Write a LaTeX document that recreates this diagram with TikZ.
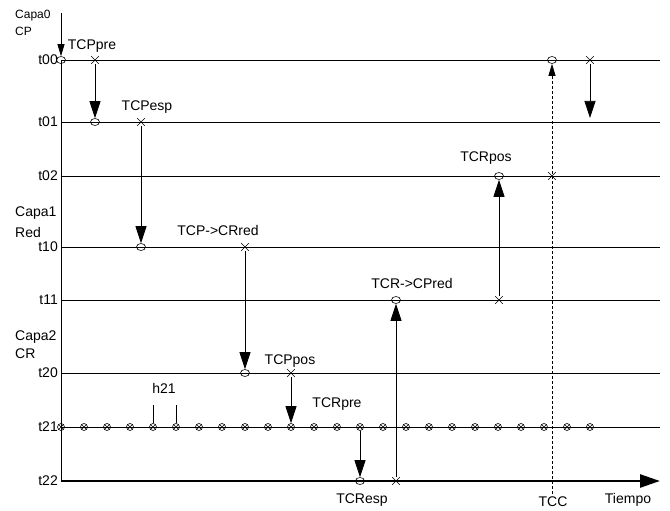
\documentclass[tikz,border=0pt]{standalone}
\usepackage{fontspec}
\setmainfont{Liberation Sans}
\usepackage{tikz}
\usetikzlibrary{arrows.meta,positioning,shapes.geometric,shapes.misc}
\tikzset{
  tline/.style ={draw, line width=0.9pt},
  taxis/.style ={line width=2.6pt, -{Triangle[length=20pt,width=13pt]}},
  evo/.style   ={draw, ellipse, minimum width=9pt, minimum height=7pt, inner sep=0pt, line width=0.6pt},
  evx/.style   ={draw, cross out, minimum size=7pt, inner sep=0pt, line width=0.6pt},
  hmark/.style ={draw, circle, minimum size=7pt, inner sep=0pt, line width=0.6pt,
                 path picture={\draw[line width=0.6pt] (path picture bounding box.south west) -- (path picture bounding box.north east)
                   (path picture bounding box.north west) -- (path picture bounding box.south east);}},
  big/.style   ={-{Triangle[length=17pt,width=11pt]}, line width=0.7pt},
  small/.style ={-{Triangle[length=12pt,width=7pt]}, line width=0.7pt},
  lbl/.style   ={font=\fontsize{14}{16}\selectfont, inner sep=0pt},
  rlbl/.style  ={lbl, anchor=east},
  clbl/.style  ={lbl, anchor=west},
}
\begin{document}
\begin{tikzpicture}[x=1pt, y=-1pt]
  \useasboundingbox (0,0) rectangle (670,511);

  % ---- time rows ----
  \foreach \r/\y in {00/60, 01/122, 02/176, 10/247, 11/300, 20/373, 21/427, 22/481} {
    \coordinate (r\r l) at (61,\y);
    \coordinate (r\r r) at (660,\y);
    \node[rlbl] (l\r) at (58,\y) {t\r};
  }
  \foreach \r in {00, 01, 02, 10, 11, 20, 21}
    \draw[tline] (r\r l) -- (r\r r);
  \draw[taxis] (r22l) -- (r22r);
  \draw[tline] (r00l) -- (r22l);

  % ---- layer names ----
  \node[clbl, font=\fontsize{12}{14}\selectfont] (capa0) at (15,16) {Capa0};
  \node[clbl, font=\fontsize{12}{14}\selectfont] (cp) at (15,31) {CP};
  \node[clbl] (capa1) at (15,213) {Capa1};
  \node[clbl] (red) at (15,232) {Red};
  \node[clbl] (capa2) at (15,337) {Capa2};
  \node[clbl] (cr) at (15,354) {CR};

  % ---- events ----
  \coordinate (top) at (61,13);
  \node[evo] (o00) at (61,60) {};
  \node[evx] (x00) at (95,60) {};
  \node[evo] (o01) at (95,122) {};
  \node[evx] (x01) at (141,122) {};
  \node[evo] (o10) at (141,247) {};
  \node[evx] (x10) at (245,247) {};
  \node[evo] (o20) at (245,373) {};
  \node[evx] (x20) at (291,373) {};
  \foreach \i in {0,...,23}
    \node[hmark] (m\i) at ({61+23*\i},427) {};
  \node[evo] (o22) at (360,481) {};
  \node[evx] (x22) at (396,481) {};
  \node[evo] (o11) at (396,300) {};
  \node[evx] (x11) at (499,300) {};
  \node[evo] (o02) at (499,176) {};
  \node[evx] (x02) at (552,176) {};
  \node[evo] (o00b) at (552,60) {};
  \node[evx] (x00b) at (590,60) {};
  \coordinate (e01) at (590,118);
  \coordinate (tcc) at (552,494);
  \coordinate (h4) at (153,405);
  \coordinate (h5) at (176,405);

  \draw[small] (top) -- (o00);
  \draw[big] (x00) -- (o01);
  \draw[big] (x01) -- (o10);
  \draw[big] (x10) -- (o20);
  \draw[big] (x20) -- (m10);
  \draw[big] (m13) -- (o22);
  \draw[big] (x22) -- (o11);
  \draw[big] (x11) -- (o02);
  \draw[small, dash pattern=on 3pt off 2pt] (tcc) -- (o00b);
  \draw[big] (x00b) -- (e01);
  \draw[line width=0.7pt] (m4) -- (h4);
  \draw[line width=0.7pt] (m5) -- (h5);

  % ---- labels ----
  \node[lbl] (tcppre) at (92,46) {TCPpre};
  \node[lbl] (tcpesp) at (147,107) {TCPesp};
  \node[lbl] (tcpcr) at (218,230) {TCP->CRred};
  \node[lbl] (tcppos) at (290,361) {TCPpos};
  \node[lbl] (h21) at (164,388) {h21};
  \node[lbl] (tcrpre) at (337,404) {TCRpre};
  \node[lbl] (tcresp) at (362,500) {TCResp};
  \node[lbl] (tcrcp) at (412,283) {TCR->CPred};
  \node[lbl] (tcrpos) at (486,158) {TCRpos};
  \node[lbl] (tiempo) at (628,500) {Tiempo};
  \node[lbl, anchor=south] (tccl) at (553,507) {TCC};
\end{tikzpicture}
\end{document}
